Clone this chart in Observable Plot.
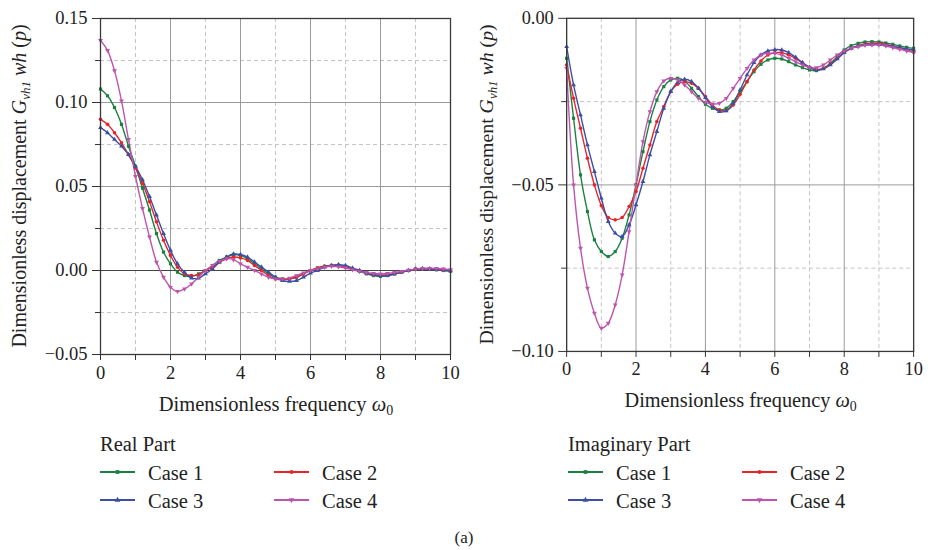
<!DOCTYPE html>
<html>
<head>
<meta charset="utf-8">
<script src="https://cdn.jsdelivr.net/npm/d3@7"></script>
<script src="https://cdn.jsdelivr.net/npm/@observablehq/plot@0.6"></script>
<style>
  html, body { margin: 0; padding: 0; background: #fff; }
  #wrap { position: relative; width: 928px; height: 550px; font-family: "Liberation Serif", serif; color: #222; }
  .pane { position: absolute; top: 0; }
  #overlay { position: absolute; left: 0; top: 0; }
</style>
</head>
<body>
<div id="wrap">
  <div class="pane" id="left" style="left:0px"></div>
  <div class="pane" id="right" style="left:467px"></div>
  <svg id="overlay" width="928" height="550"></svg>
</div>
<script>
// ---- data ----
const cases = ["Case 1", "Case 2", "Case 3", "Case 4"];
const caseColors = ["#1b8040", "#e8242a", "#3a4fa5", "#be54ae"];
const caseSymbols = ["square", "circle", "triangle", "triangle"];
const caseRotate = [0, 0, 0, 180];

const omega = [0,0.2,0.4,0.6,0.8,1,1.2,1.4,1.6,1.8,2,
  2.2,2.4,2.6,2.8,3,3.2,3.4,3.6,3.8,4,
  4.2,4.4,4.6,4.8,5,5.2,5.4,5.6,5.8,6,
  6.2,6.4,6.6,6.8,7,7.2,7.4,7.6,7.8,8,
  8.2,8.4,8.6,8.8,9,9.2,9.4,9.6,9.8,10];

// Real part
const realCase1 = [0.108,0.104,0.097,0.087,0.074,0.062,0.049,0.036,0.022,0.011,0.004,
  -0.001,-0.003,-0.0035,-0.002,0.000,0.003,0.006,0.008,0.0095,0.009,
  0.007,0.004,0.001,-0.002,-0.004,-0.005,-0.005,-0.004,-0.002,0.000,
  0.0015,0.0025,0.003,0.003,0.002,0.001,-0.0005,-0.002,-0.003,-0.0035,
  -0.003,-0.002,-0.001,0.000,0.0008,0.001,0.0008,0.0004,0.000,-0.0004];
const realCase2 = [0.090,0.087,0.082,0.076,0.069,0.061,0.052,0.041,0.029,0.018,0.009,
  0.002,-0.002,-0.003,-0.0025,0.000,0.002,0.005,0.007,0.008,0.0075,
  0.006,0.003,0.000,-0.003,-0.005,-0.0055,-0.005,-0.004,-0.002,0.000,
  0.0015,0.0025,0.003,0.003,0.002,0.001,0.000,-0.0015,-0.0025,-0.003,
  -0.0025,-0.002,-0.001,0.000,0.0008,0.001,0.001,0.0006,0.0002,0.000];
const realCase3 = [0.085,0.082,0.078,0.074,0.069,0.062,0.054,0.044,0.033,0.022,0.012,
  0.004,-0.001,-0.0045,-0.0045,-0.002,0.001,0.005,0.008,0.0098,0.0095,
  0.008,0.005,0.002,-0.001,-0.004,-0.006,-0.0065,-0.006,-0.004,-0.0015,
  0.000,0.002,0.003,0.0035,0.003,0.0015,0.000,-0.0015,-0.0025,-0.003,
  -0.003,-0.002,-0.001,0.000,0.0008,0.0012,0.001,0.0006,0.0002,-0.0002];
const realCase4 = [0.137,0.131,0.119,0.101,0.078,0.056,0.037,0.020,0.005,-0.004,-0.010,
  -0.0125,-0.011,-0.008,-0.004,0.000,0.003,0.0055,0.007,0.0065,0.004,
  0.002,0.000,-0.002,-0.004,-0.005,-0.005,-0.0045,-0.003,-0.0015,0.000,
  0.001,0.002,0.0025,0.0022,0.0015,0.0005,-0.0005,-0.0012,-0.0018,-0.002,
  -0.0018,-0.0012,-0.0005,0.0002,0.0008,0.0012,0.0013,0.0012,0.0009,0.0005];

// Imaginary part
const imagCase1 = [-0.012,-0.030,-0.047,-0.058,-0.0665,-0.070,-0.0715,-0.070,-0.066,-0.059,-0.050,
  -0.040,-0.031,-0.0245,-0.0205,-0.0185,-0.018,-0.0188,-0.021,-0.0235,-0.0258,
  -0.027,-0.0275,-0.027,-0.025,-0.022,-0.019,-0.016,-0.0138,-0.0125,-0.012,
  -0.0122,-0.013,-0.014,-0.0148,-0.0155,-0.0157,-0.015,-0.0135,-0.0115,-0.0095,
  -0.0082,-0.0075,-0.0071,-0.007,-0.0071,-0.0074,-0.0078,-0.0083,-0.0087,-0.009];
const imagCase2 = [-0.014,-0.024,-0.033,-0.042,-0.050,-0.0562,-0.0598,-0.0605,-0.0598,-0.0565,-0.052,
  -0.045,-0.038,-0.031,-0.0265,-0.022,-0.0198,-0.019,-0.0195,-0.021,-0.0235,
  -0.026,-0.0275,-0.0277,-0.026,-0.0228,-0.019,-0.0155,-0.0128,-0.011,-0.0103,
  -0.0103,-0.011,-0.012,-0.0135,-0.0147,-0.0153,-0.015,-0.0137,-0.012,-0.0102,
  -0.009,-0.0082,-0.0077,-0.0075,-0.0075,-0.0078,-0.0083,-0.0089,-0.0095,-0.0101];
const imagCase3 = [-0.0085,-0.020,-0.029,-0.038,-0.046,-0.054,-0.061,-0.0645,-0.0655,-0.062,-0.056,
  -0.049,-0.041,-0.034,-0.027,-0.022,-0.0192,-0.0183,-0.019,-0.021,-0.0238,
  -0.0265,-0.028,-0.0278,-0.0255,-0.0215,-0.017,-0.0133,-0.011,-0.0098,-0.0094,
  -0.0095,-0.0103,-0.0117,-0.0133,-0.0147,-0.0155,-0.0152,-0.014,-0.0122,-0.0103,
  -0.009,-0.0083,-0.0079,-0.0078,-0.0078,-0.008,-0.0084,-0.0088,-0.0092,-0.0095];
const imagCase4 = [-0.015,-0.050,-0.069,-0.081,-0.0885,-0.093,-0.0915,-0.086,-0.077,-0.064,-0.050,
  -0.037,-0.028,-0.022,-0.0188,-0.018,-0.0185,-0.020,-0.022,-0.024,-0.0252,
  -0.0257,-0.0255,-0.024,-0.021,-0.018,-0.015,-0.0125,-0.011,-0.0105,-0.0105,
  -0.011,-0.012,-0.013,-0.014,-0.0148,-0.0148,-0.014,-0.0125,-0.011,-0.0098,
  -0.009,-0.0085,-0.0081,-0.008,-0.008,-0.0083,-0.0088,-0.0093,-0.0098,-0.0103];

const xTicks = [0,1,2,3,4,5,6,7,8,9,10];
const realMajorY = [-0.05, 0, 0.05, 0.10, 0.15];
const realMinorY = [-0.025, 0.025, 0.075, 0.125];
const imagMajorY = [-0.10, -0.05, 0.00];
const imagMinorY = [-0.075, -0.025];

const xTitle = "Dimensionless frequency";
const legendTitles = ["Real Part", "Imaginary Part"];
const caption = "(a)";

// ---- chart ----
const FONT = "Liberation Serif, serif";
const TICK_FS = 18.5;
function makeChart(series, yDomain, majorY, minorY, zeroLine) {
  const data = cases.flatMap((c, i) => omega.map((w, j) => ({omega: w, value: series[i][j], kase: c, rot: caseRotate[i]})));
  const fmt = d3.format(".2f");
  const marks = [
    Plot.gridX(xTicks.filter(d => d % 2 === 1), {stroke: "#c4c4c4", strokeOpacity: 1, strokeDasharray: "4,3"}),
    Plot.gridY(minorY, {stroke: "#c4c4c4", strokeOpacity: 1, strokeDasharray: "4,3"}),
    Plot.gridX(xTicks.filter(d => d % 2 === 0), {stroke: "#9a9a9a", strokeOpacity: 1}),
    Plot.gridY(majorY, {stroke: "#9a9a9a", strokeOpacity: 1})
  ];
  if (zeroLine) marks.push(Plot.ruleY([0], {stroke: "#444", strokeWidth: 1}));
  marks.push(
    Plot.line(data, {x: "omega", y: "value", z: "kase", stroke: "kase", strokeWidth: 1.4, curve: "catmull-rom"}),
    Plot.dot(data, {x: "omega", y: "value", fill: "kase", symbol: "kase", rotate: "rot", r: 1.8, stroke: "none"}),
    Plot.frame({stroke: "#3a3a3a", strokeWidth: 1.3}),
    Plot.axisX(xTicks, {tickSize: 6, tickPadding: 5, tickFormat: d => d % 2 === 0 ? String(d) : "", label: null, stroke: "#333", fill: "#222"}),
    Plot.axisY(majorY, {tickSize: 8, tickPadding: 5, tickFormat: fmt, label: null, stroke: "#333", fill: "#222"}),
    Plot.axisY(minorY, {tickSize: 5, tickFormat: () => "", label: null, stroke: "#333"})
  );
  const chart = Plot.plot({
    width: 465, height: 420,
    marginLeft: 100, marginRight: 15, marginTop: 18, marginBottom: 66,
    x: {domain: [0, 10]},
    y: {domain: yDomain},
    color: {domain: cases, range: caseColors},
    symbol: {domain: cases, range: caseSymbols},
    style: {fontFamily: FONT, fontSize: "18px", color: "#222", background: "transparent"},
    marks
  });
  // force serif tick labels at the right size
  d3.select(chart).selectAll("text")
    .style("font-family", FONT)
    .style("font-size", TICK_FS + "px");
  return chart;
}

function addTitles(svgNode) {
  const svg = d3.select(svgNode);
  const xt = svg.append("text")
    .attr("x", 276).attr("y", 411).attr("text-anchor", "middle")
    .style("font-family", FONT).style("font-size", "20.5px").attr("fill", "#222");
  xt.append("tspan").text(xTitle + " ");
  xt.append("tspan").attr("font-style", "italic").text("ω");
  xt.append("tspan").style("font-size", "14px").attr("dy", 4).text("0");

  const yt = svg.append("text")
    .attr("transform", "translate(26,186) rotate(-90)").attr("text-anchor", "middle")
    .style("font-family", FONT).style("font-size", "20px").attr("fill", "#222");
  yt.append("tspan").text("Dimensionless displacement ");
  yt.append("tspan").attr("font-style", "italic").text("G");
  yt.append("tspan").attr("font-style", "italic").style("font-size", "13px").attr("dy", 4).text("vh1");
  yt.append("tspan").attr("font-style", "italic").attr("dy", -4).text(" wh ");
  yt.append("tspan").text("(");
  yt.append("tspan").attr("font-style", "italic").text("p");
  yt.append("tspan").text(")");
}

const left = makeChart([realCase1, realCase2, realCase3, realCase4], [-0.05, 0.15], realMajorY, realMinorY, true);
addTitles(left);
document.getElementById("left").appendChild(left);

const right = makeChart([imagCase1, imagCase2, imagCase3, imagCase4], [-0.10, 0.00], imagMajorY, imagMinorY, false);
addTitles(right);
document.getElementById("right").appendChild(right);

// ---- legends & caption ----
const ov = d3.select("#overlay");
const symGen = (i) => {
  const t = caseSymbols[i] === "square" ? d3.symbolSquare : caseSymbols[i] === "circle" ? d3.symbolCircle : d3.symbolTriangle;
  return d3.symbol(t, 14)();
};
[100, 568].forEach((x0, k) => {
  const g = ov.append("g").style("font-family", FONT).attr("fill", "#222");
  g.append("text").attr("x", x0).attr("y", 451).style("font-size", "20.5px").text(legendTitles[k]);
  cases.forEach((c, i) => {
    const col = i % 2, row = Math.floor(i / 2);
    const lx = x0 + col * 174, ly = 472 + row * 28;
    g.append("line").attr("x1", lx).attr("x2", lx + 35).attr("y1", ly).attr("y2", ly)
      .attr("stroke", caseColors[i]).attr("stroke-width", 2.2);
    g.append("path").attr("d", symGen(i))
      .attr("transform", `translate(${lx + 17.5},${ly}) rotate(${caseRotate[i]})`)
      .attr("fill", caseColors[i]);
    g.append("text").attr("x", lx + 48).attr("y", ly + 8).style("font-size", "20.5px").text(c);
  });
});
ov.append("text").attr("x", 464).attr("y", 543).attr("text-anchor", "middle")
  .style("font-family", FONT).style("font-size", "17px").attr("fill", "#222").text(caption);
</script>
</body>
</html>
